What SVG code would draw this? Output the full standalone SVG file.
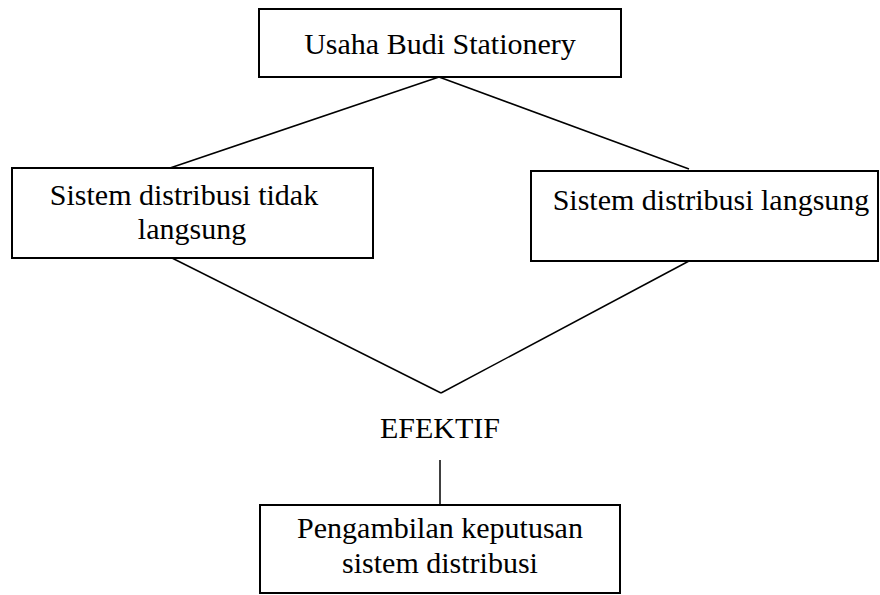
<svg xmlns="http://www.w3.org/2000/svg" width="880" height="595" viewBox="0 0 880 595">
<style>
.box{fill:#fff;stroke:#000;stroke-width:2}
.t{font-family:"Liberation Serif","Times New Roman",serif;font-size:30px;fill:#000;text-anchor:middle}
.c{stroke:#000;stroke-width:1.5;fill:none}
</style>
<rect width="880" height="595" fill="#fff"/>
<g id="connectors">
<line class="c" x1="439" y1="77" x2="170" y2="168"/>
<line class="c" x1="439" y1="77" x2="689" y2="169"/>
<line class="c" x1="172" y1="258" x2="441" y2="393"/>
<line class="c" x1="689" y1="261" x2="441" y2="393"/>
<line class="c" x1="440" y1="460" x2="440" y2="505"/>
</g>
<g id="node-usaha">
<rect class="box" x="259" y="9" width="362" height="68"/>
<text class="t" x="440" y="54">Usaha Budi Stationery</text>
</g>
<g id="node-tidak-langsung">
<rect class="box" x="12" y="168" width="361" height="90"/>
<text class="t" x="184" y="205">Sistem distribusi tidak</text>
<text class="t" x="192" y="239">langsung</text>
</g>
<g id="node-langsung">
<rect class="box" x="531" y="171" width="347" height="90"/>
<text class="t" x="711" y="210">Sistem distribusi langsung</text>
</g>
<g id="node-efektif">
<text class="t" x="440" y="438">EFEKTIF</text>
</g>
<g id="node-keputusan">
<rect class="box" x="260" y="505" width="360" height="88"/>
<text class="t" x="440" y="538">Pengambilan keputusan</text>
<text class="t" x="440" y="573">sistem distribusi</text>
</g>
</svg>
